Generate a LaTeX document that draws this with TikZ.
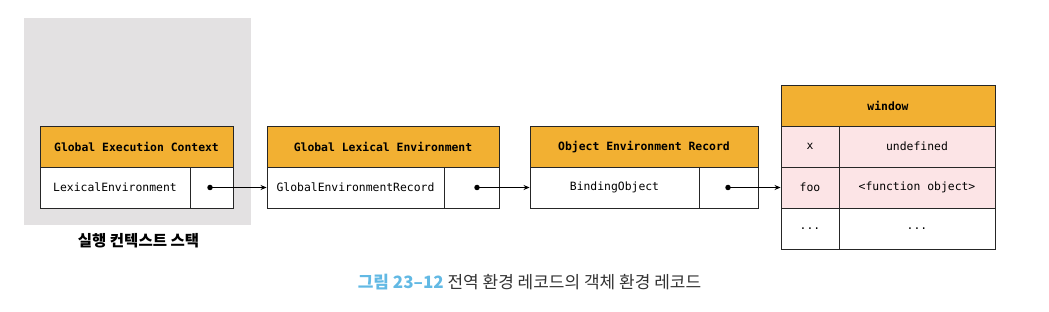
\documentclass[tikz,border=0pt]{standalone}
\usepackage{fontspec}
\setmonofont{DejaVu Sans Mono}
\newfontfamily\krfont{Noto Sans CJK KR}
\usetikzlibrary{arrows.meta}
\definecolor{headorange}{HTML}{F2B032}
\definecolor{rowpink}{HTML}{FCE4E6}
\definecolor{stackgray}{HTML}{E3E1E2}
\definecolor{capblue}{HTML}{62B9E4}
\definecolor{capgray}{HTML}{333333}
\begin{document}
\begin{tikzpicture}[x=1pt, y=-1pt, >={Stealth[length=6pt,width=5pt]},
	head/.style={draw=black!85, line width=0.9pt, fill=headorange, minimum height=41pt, inner sep=0pt, font=\fontsize{11.4}{13}\ttfamily\bfseries},
	cell/.style={draw=black!85, line width=0.9pt, fill=white, minimum height=41pt, inner sep=0pt, font=\fontsize{11.4}{13}\ttfamily},
	pink/.style={cell, fill=rowpink},
	dot/.style={circle, fill=black, inner sep=0pt, minimum size=5.5pt}]
	\useasboundingbox (0,0) rectangle (1049,312);
	% stack background
	\fill[stackgray] (24,18) rectangle (251,225);
	\node[font=\fontsize{15.5}{18}\krfont\bfseries] (stacklabel) at (138.5,241) {실행 컨텍스트 스택};
	% global execution context
	\node[head, minimum width=193pt] (gec) at (136.5,147) {Global Execution Context};
	\node[cell, minimum width=150pt] (gecle) at (115,187.5) {LexicalEnvironment};
	\node[cell, minimum width=43pt] (gecptr) at (211.5,187.5) {};
	% global lexical environment
	\node[head, minimum width=232pt] (gle) at (383,147) {Global Lexical Environment};
	\node[cell, minimum width=177pt] (glerec) at (355.5,187.5) {GlobalEnvironmentRecord};
	\node[cell, minimum width=55pt] (gleptr) at (471.5,187.5) {};
	% object environment record
	\node[head, minimum width=228pt] (oer) at (644,147) {Object Environment Record};
	\node[cell, minimum width=169pt] (oerbind) at (614.5,187.5) {BindingObject};
	\node[cell, minimum width=59pt] (oerptr) at (728.5,187.5) {};
	% window object
	\node[head, minimum width=214pt] (win) at (888,105.5) {window};
	\node[pink, minimum width=58pt] (winx) at (810,146.5) {x};
	\node[pink, minimum width=156pt] (winxval) at (917,146.5) {undefined};
	\node[pink, minimum width=58pt] (winfoo) at (810,187.5) {foo};
	\node[pink, minimum width=156pt] (winfooval) at (917,187.5) {<function object>};
	\node[cell, minimum width=58pt] (winetc) at (810,228.5) {...};
	\node[cell, minimum width=156pt] (winetcval) at (917,228.5) {...};
	% pointers
	\node[dot] (d1) at (210,187.5) {};
	\node[dot] (d2) at (477,187.5) {};
	\node[dot] (d3) at (728,187.5) {};
	\draw[->, line width=0.9pt] (d1.center) -- (glerec.west);
	\draw[->, line width=0.9pt] (d2.center) -- (oerbind.west);
	\draw[->, line width=0.9pt] (d3.center) -- (winfoo.west);
	% caption
	\node[font=\fontsize{17}{20}\krfont, text=capgray] (caption) at (529.5,282) {{\color{capblue}\bfseries 그림 23–12} 전역 환경 레코드의 객체 환경 레코드};
\end{tikzpicture}
\end{document}
